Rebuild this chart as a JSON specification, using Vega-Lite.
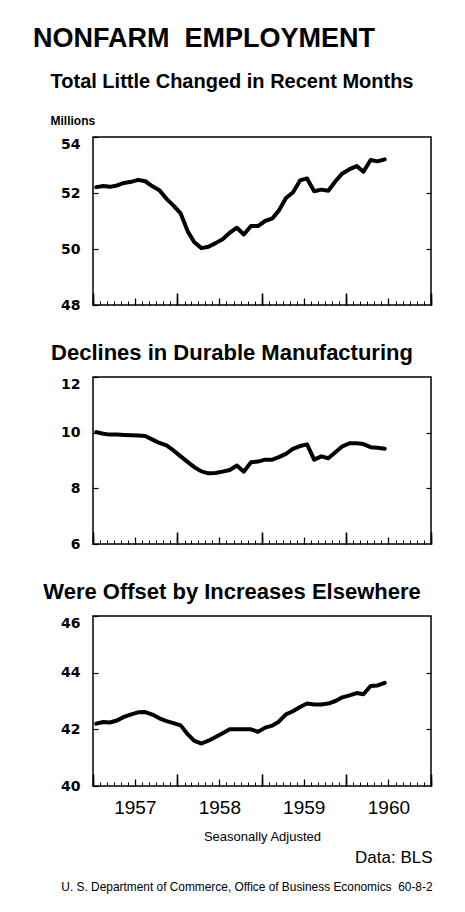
{
  "$schema": "https://vega.github.io/schema/vega-lite/v6.json",
  "background": "white",
  "padding": {"left": 33, "top": 25, "right": 20, "bottom": 20},
  "config": {
    "font": "Liberation Sans",
    "view": {"stroke": "black", "strokeWidth": 1.5},
    "axis": {"grid": false, "domain": false, "tickColor": "black", "labelColor": "black", "titleColor": "black"},
    "title": {"color": "black", "subtitleColor": "black"}
  },
  "datasets": {
    "emp": [
      {"date": "1957-01-15", "total": 52.21, "durable": 10.02, "other": 42.20},
      {"date": "1957-02-15", "total": 52.25, "durable": 9.96, "other": 42.26},
      {"date": "1957-03-15", "total": 52.22, "durable": 9.93, "other": 42.24},
      {"date": "1957-04-15", "total": 52.27, "durable": 9.93, "other": 42.31},
      {"date": "1957-05-15", "total": 52.36, "durable": 9.92, "other": 42.44},
      {"date": "1957-06-15", "total": 52.40, "durable": 9.91, "other": 42.53},
      {"date": "1957-07-15", "total": 52.47, "durable": 9.90, "other": 42.60},
      {"date": "1957-08-15", "total": 52.42, "durable": 9.88, "other": 42.61},
      {"date": "1957-09-15", "total": 52.24, "durable": 9.75, "other": 42.52},
      {"date": "1957-10-15", "total": 52.10, "durable": 9.63, "other": 42.39},
      {"date": "1957-11-15", "total": 51.79, "durable": 9.54, "other": 42.29},
      {"date": "1957-12-15", "total": 51.55, "durable": 9.36, "other": 42.22},
      {"date": "1958-01-15", "total": 51.27, "durable": 9.15, "other": 42.14},
      {"date": "1958-02-15", "total": 50.62, "durable": 8.94, "other": 41.82},
      {"date": "1958-03-15", "total": 50.24, "durable": 8.76, "other": 41.59},
      {"date": "1958-04-15", "total": 50.03, "durable": 8.61, "other": 41.50},
      {"date": "1958-05-15", "total": 50.08, "durable": 8.54, "other": 41.60},
      {"date": "1958-06-15", "total": 50.21, "durable": 8.55, "other": 41.73},
      {"date": "1958-07-15", "total": 50.35, "durable": 8.60, "other": 41.86},
      {"date": "1958-08-15", "total": 50.58, "durable": 8.66, "other": 42.00},
      {"date": "1958-09-15", "total": 50.76, "durable": 8.82, "other": 42.00},
      {"date": "1958-10-15", "total": 50.52, "durable": 8.60, "other": 42.00},
      {"date": "1958-11-15", "total": 50.82, "durable": 8.94, "other": 42.00},
      {"date": "1958-12-15", "total": 50.82, "durable": 8.96, "other": 41.91},
      {"date": "1959-01-15", "total": 51.00, "durable": 9.03, "other": 42.06},
      {"date": "1959-02-15", "total": 51.09, "durable": 9.03, "other": 42.13},
      {"date": "1959-03-15", "total": 51.37, "durable": 9.12, "other": 42.27},
      {"date": "1959-04-15", "total": 51.82, "durable": 9.24, "other": 42.53},
      {"date": "1959-05-15", "total": 52.02, "durable": 9.42, "other": 42.64},
      {"date": "1959-06-15", "total": 52.45, "durable": 9.52, "other": 42.79},
      {"date": "1959-07-15", "total": 52.52, "durable": 9.58, "other": 42.91},
      {"date": "1959-08-15", "total": 52.06, "durable": 9.03, "other": 42.88},
      {"date": "1959-09-15", "total": 52.12, "durable": 9.15, "other": 42.88},
      {"date": "1959-10-15", "total": 52.08, "durable": 9.08, "other": 42.91},
      {"date": "1959-11-15", "total": 52.42, "durable": 9.30, "other": 43.00},
      {"date": "1959-12-15", "total": 52.70, "durable": 9.51, "other": 43.13},
      {"date": "1960-01-15", "total": 52.85, "durable": 9.62, "other": 43.20},
      {"date": "1960-02-15", "total": 52.96, "durable": 9.62, "other": 43.28},
      {"date": "1960-03-15", "total": 52.76, "durable": 9.59, "other": 43.24},
      {"date": "1960-04-15", "total": 53.18, "durable": 9.48, "other": 43.53},
      {"date": "1960-05-15", "total": 53.13, "durable": 9.46, "other": 43.55},
      {"date": "1960-06-15", "total": 53.20, "durable": 9.42, "other": 43.64}
    ]
  },
  "title": {"text": "NONFARM\u00a0 EMPLOYMENT", "anchor": "start", "frame": "group", "dx": -60, "fontSize": 27, "fontWeight": "bold", "font": "Liberation Sans", "baseline": "alphabetic", "offset": -3},
  "bounds": "flush",
  "spacing": 72,
  "vconcat": [
    {
      "width": 338, "height": 168,
      "data": {"name": "emp"},
      "title": {"text": "Total Little Changed in Recent Months", "anchor": "middle", "frame": "group", "dx": -30, "fontSize": 20, "fontWeight": "bold", "baseline": "alphabetic", "offset": 6},
      "layer": [
        {
          "mark": {"type": "line", "strokeOpacity": 0},
          "encoding": {
            "x": {"field": "date", "type": "temporal", "scale": {"type": "utc", "domain": [{"year": 1957, "month": 1, "date": 1, "utc": true}, {"year": 1961, "month": 1, "date": 1, "utc": true}]},
                  "axis": {"orient": "bottom", "tickCount": {"interval": "month", "step": 6}, "labels": false, "tickSize": -7, "tickWidth": 1.3, "title": null}},
            "y": {"field": "total", "type": "quantitative", "scale": {"domain": [48, 54], "nice": false, "zero": false},
                  "axis": {"orient": "right", "values": [50, 52], "labels": false, "tickSize": -5, "tickWidth": 1.2, "title": null}}
          }
        },
        {
          "mark": {"type": "line", "strokeOpacity": 0},
          "encoding": {
            "x": {"field": "date", "type": "temporal", "scale": {"type": "utc", "domain": [{"year": 1957, "month": 1, "date": 1, "utc": true}, {"year": 1961, "month": 1, "date": 1, "utc": true}]},
                  "axis": {"orient": "bottom", "tickCount": {"interval": "year", "step": 1}, "labels": false, "tickSize": -12, "tickWidth": 1.6, "title": null}},
            "y": {"field": "total", "type": "quantitative", "scale": {"domain": [48, 54], "nice": false, "zero": false}, "axis": null}
          }
        },
        {
          "mark": {"type": "line", "color": "black", "strokeWidth": 4, "strokeCap": "round", "strokeJoin": "round"},
          "encoding": {
            "x": {"field": "date", "type": "temporal", "scale": {"type": "utc", "domain": [{"year": 1957, "month": 1, "date": 1, "utc": true}, {"year": 1961, "month": 1, "date": 1, "utc": true}]},
                  "axis": {"orient": "bottom", "tickCount": {"interval": "month", "step": 1}, "labels": false, "tickSize": -4, "tickWidth": 1, "title": null}},
            "y": {"field": "total", "type": "quantitative", "scale": {"domain": [48, 54], "nice": false, "zero": false},
                  "axis": {"orient": "left", "values": [48, 50, 52, 54], "tickSize": -5, "tickWidth": 1.2, "labelFont": "DejaVu Sans", "labelFontWeight": "bold", "labelFontSize": 14, "labelPadding": 18,
                           "labelBaseline": {"condition": {"test": "datum.value == 54", "value": "top"}, "value": "middle"},
                           "title": "Millions", "titleAngle": 0, "titleAlign": "left", "titleBaseline": "alphabetic", "titleX": -43, "titleY": -13, "titleFontSize": 12, "titleFontWeight": "bold"}}
          }
        }
      ],
      "resolve": {"axis": {"x": "independent", "y": "independent"}}
    },
    {
      "width": 338, "height": 167,
      "data": {"name": "emp"},
      "title": {"text": "Declines in Durable Manufacturing", "anchor": "middle", "frame": "group", "dx": -30, "fontSize": 22, "fontWeight": "bold", "baseline": "alphabetic", "offset": -6},
      "layer": [
        {
          "mark": {"type": "line", "strokeOpacity": 0},
          "encoding": {
            "x": {"field": "date", "type": "temporal", "scale": {"type": "utc", "domain": [{"year": 1957, "month": 1, "date": 1, "utc": true}, {"year": 1961, "month": 1, "date": 1, "utc": true}]},
                  "axis": {"orient": "bottom", "tickCount": {"interval": "month", "step": 6}, "labels": false, "tickSize": -7, "tickWidth": 1.3, "title": null}},
            "y": {"field": "durable", "type": "quantitative", "scale": {"domain": [6, 12], "nice": false, "zero": false},
                  "axis": {"orient": "right", "values": [8, 10], "labels": false, "tickSize": -5, "tickWidth": 1.2, "title": null}}
          }
        },
        {
          "mark": {"type": "line", "strokeOpacity": 0},
          "encoding": {
            "x": {"field": "date", "type": "temporal", "scale": {"type": "utc", "domain": [{"year": 1957, "month": 1, "date": 1, "utc": true}, {"year": 1961, "month": 1, "date": 1, "utc": true}]},
                  "axis": {"orient": "bottom", "tickCount": {"interval": "year", "step": 1}, "labels": false, "tickSize": -12, "tickWidth": 1.6, "title": null}},
            "y": {"field": "durable", "type": "quantitative", "scale": {"domain": [6, 12], "nice": false, "zero": false}, "axis": null}
          }
        },
        {
          "mark": {"type": "line", "color": "black", "strokeWidth": 4, "strokeCap": "round", "strokeJoin": "round"},
          "encoding": {
            "x": {"field": "date", "type": "temporal", "scale": {"type": "utc", "domain": [{"year": 1957, "month": 1, "date": 1, "utc": true}, {"year": 1961, "month": 1, "date": 1, "utc": true}]},
                  "axis": {"orient": "bottom", "tickCount": {"interval": "month", "step": 1}, "labels": false, "tickSize": -4, "tickWidth": 1, "title": null}},
            "y": {"field": "durable", "type": "quantitative", "scale": {"domain": [6, 12], "nice": false, "zero": false},
                  "axis": {"orient": "left", "values": [6, 8, 10, 12], "tickSize": -5, "tickWidth": 1.2, "labelFont": "DejaVu Sans", "labelFontWeight": "bold", "labelFontSize": 14, "labelPadding": 18,
                           "labelBaseline": {"condition": {"test": "datum.value == 12", "value": "top"}, "value": "middle"},
                           "title": null}}
          }
        }
      ],
      "resolve": {"axis": {"x": "independent", "y": "independent"}}
    },
    {
      "bounds": "flush",
      "title": {"text": "Data: BLS", "subtitle": "U. S. Department of Commerce, Office of Business Economics\u00a0 60-8-2", "orient": "bottom", "anchor": "end", "frame": "bounds", "fontSize": 17, "fontWeight": "normal", "baseline": "alphabetic", "offset": 19, "subtitleFont": "Liberation Sans Narrow, Liberation Sans", "subtitleFontSize": 11.9, "subtitlePadding": 11},
      "vconcat": [
        {
          "width": 338, "height": 170,
          "data": {"name": "emp"},
          "title": {"text": "Were Offset by Increases Elsewhere", "anchor": "middle", "frame": "group", "dx": -30, "fontSize": 22, "fontWeight": "bold", "baseline": "alphabetic", "offset": -6},
          "layer": [
            {
              "mark": {"type": "line", "strokeOpacity": 0},
              "encoding": {
                "x": {"field": "date", "type": "temporal", "scale": {"type": "utc", "domain": [{"year": 1957, "month": 1, "date": 1, "utc": true}, {"year": 1961, "month": 1, "date": 1, "utc": true}]},
                      "axis": {"orient": "bottom", "tickCount": {"interval": "month", "step": 6}, "labels": false, "tickSize": -7, "tickWidth": 1.3, "title": null}},
                "y": {"field": "other", "type": "quantitative", "scale": {"domain": [40, 46], "nice": false, "zero": false},
                      "axis": {"orient": "right", "values": [42, 44], "labels": false, "tickSize": -5, "tickWidth": 1.2, "title": null}}
              }
            },
            {
              "mark": {"type": "line", "strokeOpacity": 0},
              "encoding": {
                "x": {"field": "date", "type": "temporal", "scale": {"type": "utc", "domain": [{"year": 1957, "month": 1, "date": 1, "utc": true}, {"year": 1961, "month": 1, "date": 1, "utc": true}]},
                      "axis": {"orient": "bottom", "tickCount": {"interval": "year", "step": 1}, "labels": false, "tickSize": -12, "tickWidth": 1.6, "title": null}},
                "y": {"field": "other", "type": "quantitative", "scale": {"domain": [40, 46], "nice": false, "zero": false}, "axis": null}
              }
            },
            {
              "mark": {"type": "line", "strokeOpacity": 0},
              "encoding": {
                "x": {"field": "date", "type": "temporal", "scale": {"type": "utc", "domain": [{"year": 1957, "month": 1, "date": 1, "utc": true}, {"year": 1961, "month": 1, "date": 1, "utc": true}]},
                      "axis": {"orient": "bottom", "values": [{"year": 1957, "month": 7, "date": 1, "utc": true}, {"year": 1958, "month": 7, "date": 1, "utc": true}, {"year": 1959, "month": 7, "date": 1, "utc": true}, {"year": 1960, "month": 7, "date": 1, "utc": true}],
                               "labelExpr": "utcFormat(datum.value, '%Y')", "ticks": false, "labelFontSize": 19, "labelPadding": 12,
                               "title": "Seasonally Adjusted", "titleFontSize": 13, "titleFontWeight": "normal", "titlePadding": 13}},
                "y": {"field": "other", "type": "quantitative", "scale": {"domain": [40, 46], "nice": false, "zero": false}, "axis": null}
              }
            },
            {
              "mark": {"type": "line", "color": "black", "strokeWidth": 4, "strokeCap": "round", "strokeJoin": "round"},
              "encoding": {
                "x": {"field": "date", "type": "temporal", "scale": {"type": "utc", "domain": [{"year": 1957, "month": 1, "date": 1, "utc": true}, {"year": 1961, "month": 1, "date": 1, "utc": true}]},
                      "axis": {"orient": "bottom", "tickCount": {"interval": "month", "step": 1}, "labels": false, "tickSize": -4, "tickWidth": 1, "title": null}},
                "y": {"field": "other", "type": "quantitative", "scale": {"domain": [40, 46], "nice": false, "zero": false},
                      "axis": {"orient": "left", "values": [40, 42, 44, 46], "tickSize": -5, "tickWidth": 1.2, "labelFont": "DejaVu Sans", "labelFontWeight": "bold", "labelFontSize": 14, "labelPadding": 18,
                               "labelBaseline": {"condition": {"test": "datum.value == 46", "value": "top"}, "value": "middle"},
                               "title": null}}
              }
            }
          ],
          "resolve": {"axis": {"x": "independent", "y": "independent"}}
        }
      ]
    }
  ]
}
